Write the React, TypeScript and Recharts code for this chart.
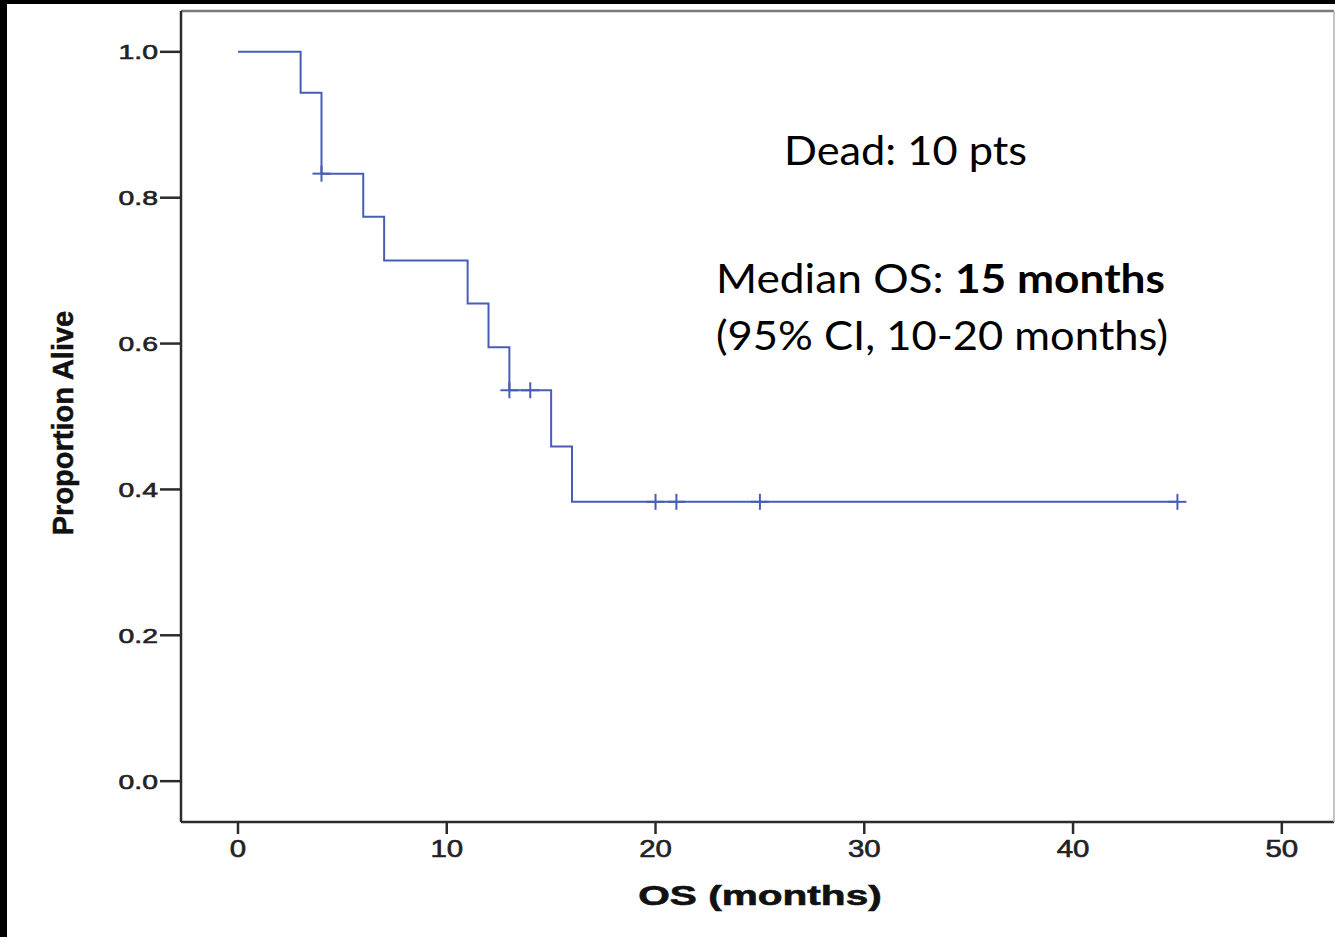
import { ComposedChart, Line, Scatter, XAxis, YAxis } from 'recharts';

// Kaplan-Meier overall survival
const stepTimes = [0, 3, 4, 6, 7, 11, 12, 13, 15, 16, 45];
const stepSurvival = [1.0, 0.944, 0.833, 0.774, 0.714, 0.655, 0.595, 0.536, 0.459, 0.383, 0.383];
const censorTimes = [4, 13, 14, 20, 21, 25, 45];
const censorSurvival = [0.833, 0.536, 0.536, 0.383, 0.383, 0.383, 0.383];
const xTicks = [0, 10, 20, 30, 40, 50];
const yTicks = [0, 0.2, 0.4, 0.6, 0.8, 1.0];

const curve = stepTimes.map((t, i) => ({ t, s: stepSurvival[i] }));
const censored = censorTimes.map((t, i) => ({ t, s: censorSurvival[i] }));

const W = 1335;
const H = 937;
const BLUE = '#4a5db5';
const AXIS = '#2b2b2b';
const TICK_FONT = '"Liberation Sans", Arial, sans-serif';

const CensorMark = (props: any) => {
  const { cx, cy } = props;
  return (
    <g stroke={BLUE} strokeWidth={2}>
      <line x1={cx - 9} y1={cy} x2={cx + 9} y2={cy} />
      <line x1={cx} y1={cy - 8} x2={cx} y2={cy + 8} />
    </g>
  );
};

const YTick = (props: any) => {
  const { x, y, payload } = props;
  return (
    <text
      transform={`translate(${x},${y}) scale(1.35,1)`}
      textAnchor="end"
      dy="0.36em"
      fontFamily={TICK_FONT}
      fontSize={21}
      fill="#222"
      stroke="#222"
      strokeWidth={0.6}
    >
      {Number(payload.value).toFixed(1)}
    </text>
  );
};

const XTick = (props: any) => {
  const { x, y, payload } = props;
  return (
    <text
      transform={`translate(${x},${y}) scale(1.28,1)`}
      textAnchor="middle"
      dy="0.72em"
      fontFamily={TICK_FONT}
      fontSize={23}
      fill="#222"
      stroke="#222"
      strokeWidth={0.6}
    >
      {payload.value}
    </text>
  );
};

export default function App() {
  return (
    <div style={{ position: 'absolute', left: 0, top: 0, width: W, height: H, background: '#fff' }}>
      <ComposedChart width={W} height={H} margin={{ top: 0, right: 0, bottom: 55, left: 121 }}>
        <XAxis
          xAxisId={0}
          type="number"
          dataKey="t"
          domain={[-2.73, 52.5]}
          ticks={xTicks}
          allowDataOverflow
          height={60}
          tickSize={12}
          tickMargin={6}
          tick={<XTick />}
          stroke={AXIS}
          strokeWidth={2.5}
          tickLine={{ stroke: AXIS, strokeWidth: 2.5 }}
        />
        <XAxis
          xAxisId="top"
          orientation="top"
          type="number"
          dataKey="t"
          domain={[-2.73, 52.5]}
          allowDataOverflow
          height={11}
          tick={false}
          tickLine={false}
          stroke="#7a7a7a"
          strokeWidth={2.5}
        />
        <YAxis
          yAxisId={0}
          type="number"
          domain={[-0.056, 1.056]}
          ticks={yTicks}
          allowDataOverflow
          width={60}
          tickSize={21}
          tickMargin={2}
          tick={<YTick />}
          stroke={AXIS}
          strokeWidth={2.5}
          tickLine={{ stroke: AXIS, strokeWidth: 2.5 }}
        />
        <YAxis
          yAxisId="right"
          orientation="right"
          type="number"
          domain={[-0.056, 1.056]}
          allowDataOverflow
          width={1}
          tick={false}
          tickLine={false}
          stroke="#b0b0b0"
          strokeWidth={1.5}
        />
        <Line
          data={curve}
          dataKey="s"
          type="stepAfter"
          stroke={BLUE}
          strokeWidth={2}
          dot={false}
          activeDot={false}
          isAnimationActive={false}
        />
        <Scatter data={censored} dataKey="s" shape={<CensorMark />} isAnimationActive={false} />
      </ComposedChart>

      <svg width={W} height={H} style={{ position: 'absolute', left: 0, top: 0, pointerEvents: 'none' }}>
        <rect x={0} y={0} width={W} height={4} fill="#000" />
        <rect x={0} y={0} width={7} height={H} fill="#000" />
        <text
          transform="translate(73,423) rotate(-90)"
          textAnchor="middle"
          fontFamily={TICK_FONT}
          fontWeight="bold"
          fontSize={29}
          fill="#111"
          stroke="#111"
          strokeWidth={0.5}
        >
          Proportion Alive
        </text>
        <text
          transform="translate(760,905) scale(1.45,1)"
          textAnchor="middle"
          fontFamily={TICK_FONT}
          fontWeight="bold"
          fontSize={28}
          fill="#111"
          stroke="#111"
          strokeWidth={0.6}
        >
          OS (months)
        </text>
        <g fontFamily="Lato, 'Open Sans', sans-serif" fontSize={40} fill="#000">
          <text x={784} y={165} textLength={243} lengthAdjust="spacingAndGlyphs">
            Dead: 10 pts
          </text>
          <text x={716} y={293} textLength={449} lengthAdjust="spacingAndGlyphs">
            Median OS: <tspan fontWeight="bold">15 months</tspan>
          </text>
          <text x={716} y={350} textLength={452} lengthAdjust="spacingAndGlyphs">
            (95% CI, 10-20 months)
          </text>
        </g>
      </svg>
    </div>
  );
}
